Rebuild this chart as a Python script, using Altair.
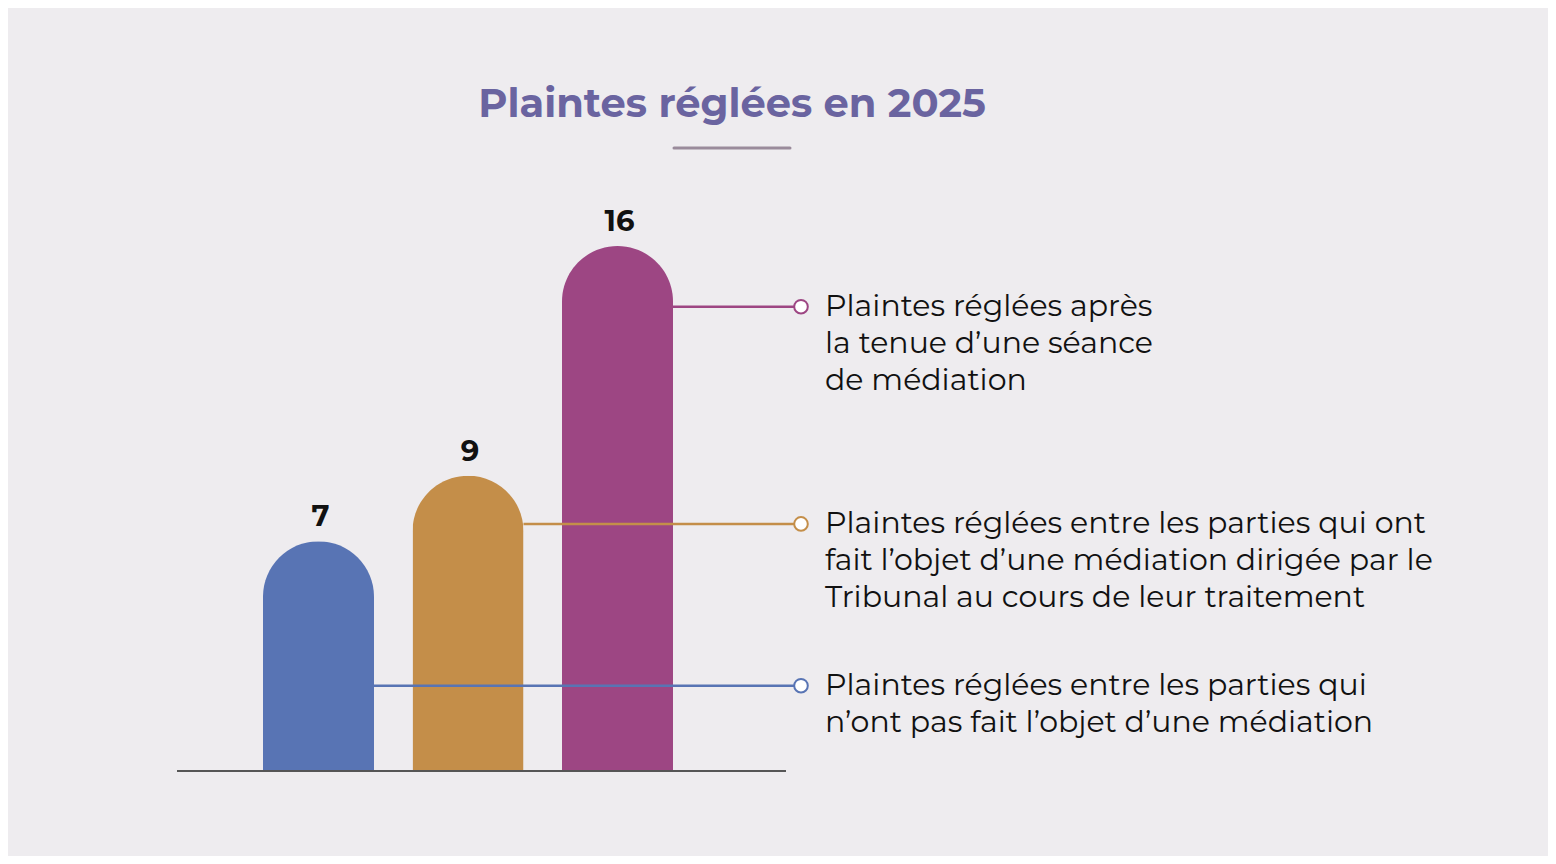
import altair as alt
import pandas as pd

# données
categories = ["sans_mediation", "mediation_tribunal", "apres_seance"]
values = [7, 9, 16]
bar_colors = ["#5874b4", "#c48e49", "#9d4683"]
# hauteur (en unités de l'axe y) où part chaque trait vers sa légende
anchors = [2.6, 7.53, 14.15]
labels = [
    "Plaintes réglées entre les parties qui\nn’ont pas fait l’objet d’une médiation",
    "Plaintes réglées entre les parties qui ont\nfait l’objet d’une médiation dirigée par le\nTribunal au cours de leur traitement",
    "Plaintes réglées après\nla tenue d’une séance\nde médiation",
]
title_text = "Plaintes réglées en 2025"

df = pd.DataFrame(
    {
        "cat": categories,
        "value": values,
        "anchor": anchors,
        "label": labels,
    }
)

FONT = "Montserrat, Inter"

x = alt.X(
    "cat:N",
    sort=categories,
    axis=None,
    scale=alt.Scale(range=[255, 665], paddingInner=0.2575, paddingOuter=0),
)
yscale = alt.Scale(domain=[0, 16], range=[763, 238])
color = alt.Color(
    "cat:N", scale=alt.Scale(domain=categories, range=bar_colors), legend=None
)

base = alt.Chart(df)

bars = base.mark_bar(cornerRadiusTopLeft=55.5, cornerRadiusTopRight=55.5).encode(
    x=x,
    y=alt.Y("value:Q", scale=yscale, axis=None),
    color=color,
)

values_text = base.mark_text(
    font=FONT,
    fontSize=29,
    fontWeight="bold",
    color="#111111",
    baseline="middle",
    dx=2,
    dy=-24,
).encode(
    x=alt.X("cat:N", sort=categories, bandPosition=0.5, axis=None),
    y=alt.Y("value:Q", scale=yscale),
    text="value:Q",
)

connectors = base.mark_rule(strokeWidth=2.5).encode(
    x=alt.X("cat:N", sort=categories, bandPosition=1, axis=None),
    x2=alt.value(793),
    y=alt.Y("anchor:Q", scale=yscale),
    color=color,
)

dots = base.mark_point(
    shape="circle", filled=True, fill="white", size=185, strokeWidth=2, opacity=1
).encode(
    x=alt.value(793),
    y=alt.Y("anchor:Q", scale=yscale),
    stroke=color,
)

legend_text = base.mark_text(
    font=FONT,
    fontSize=30,
    fontWeight=400,
    color="#111111",
    align="left",
    baseline="line-top",
    lineBreak="\n",
    lineHeight=37,
    dy=-17.5,
).encode(
    x=alt.value(817),
    y=alt.Y("anchor:Q", scale=yscale),
    text="label:N",
)

baseline = base.mark_rule(color="#555555", strokeWidth=1.5).encode(
    x=alt.value(169),
    x2=alt.value(778),
    y=alt.datum(0, scale=yscale),
)

title = (
    alt.Chart(pd.DataFrame({"t": [title_text]}))
    .mark_text(
        font=FONT,
        fontSize=40,
        fontWeight="bold",
        color="#6a64a0",
        baseline="middle",
    )
    .encode(x=alt.value(724), y=alt.value(97), text="t:N")
)

underline = (
    alt.Chart(pd.DataFrame({"t": [title_text]}))
    .mark_rule(color="#9a8b9b", strokeWidth=3, strokeCap="round")
    .encode(x=alt.value(666), x2=alt.value(782), y=alt.value(140))
)

chart = (
    alt.layer(bars, baseline, connectors, dots, values_text, legend_text, title, underline)
    .resolve_scale(y="shared")
    .properties(
        width=1540,
        height=848,
        padding=0,
        autosize=alt.AutoSizeParams(type="none"),
        background="#eeecef",
    )
    .configure_view(stroke=None)
)

chart.save("out.html", embed_options={"renderer": "svg", "actions": False})
